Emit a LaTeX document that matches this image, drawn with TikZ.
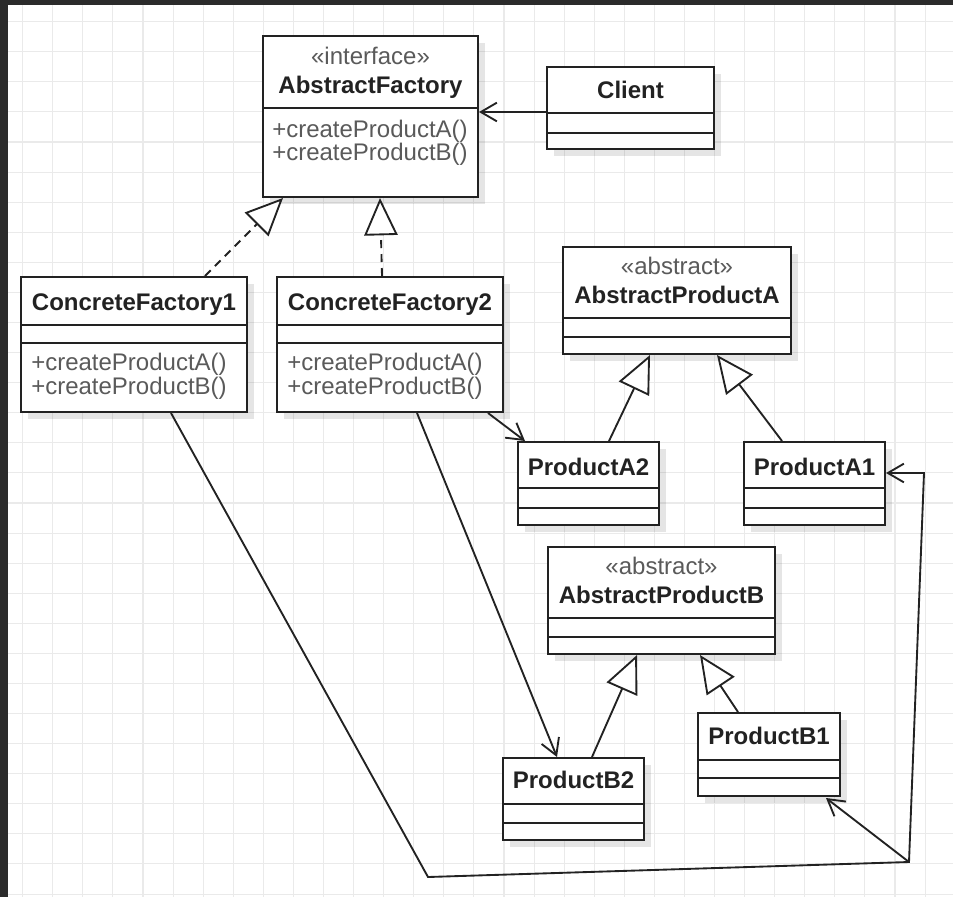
\documentclass[tikz,border=0pt]{standalone}
\usepackage{fontspec}
\setmainfont{Liberation Sans}
\usetikzlibrary{arrows.meta,calc,shadows}
\definecolor{ink}{HTML}{222222}
\definecolor{txtgray}{HTML}{5A5A5A}
\definecolor{gridc}{HTML}{EAEAEA}
\definecolor{bandc}{HTML}{2B2B2B}
\begin{document}
\begin{tikzpicture}[x=0.75pt,y=-0.75pt,
  cls/.style={draw=ink, line width=1.5pt, fill=white, inner sep=0pt, rectangle,
    drop shadow={shadow xshift=5pt, shadow yshift=-5pt, opacity=0.10, fill=black}},
  divl/.style={draw=ink, line width=1.5pt},
  lbl/.style={inner sep=0pt, anchor=base, font=\fontsize{18}{20}\selectfont},
  nm/.style={lbl, text=ink, font=\fontsize{18}{20}\selectfont\bfseries},
  st/.style={lbl, text=txtgray},
  mth/.style={lbl, anchor=base west, text=txtgray},
  conn/.style={draw=ink, line width=1.4pt},
  realz/.style={conn, dash pattern=on 6pt off 4.5pt,
    -{Triangle[open, length=28pt, width=25pt, fill=white, line width=1.4pt]}},
  gen/.style={conn, -{Triangle[open, length=28pt, width=25pt, fill=white, line width=1.4pt]}},
  assoc/.style={conn, -{Straight Barb[length=12pt, width=14pt, line width=1.4pt]}}
]
\useasboundingbox (0,0) rectangle (953,897);
\fill[white] (0,0) rectangle (953,897);
\foreach \i in {0,...,31} \draw[gridc, line width=0.8pt] ({22.7+30.08*\i},0) -- ({22.7+30.08*\i},897);
\foreach \i in {0,...,29} \draw[gridc, line width=0.8pt] (0,{21.7+30.08*\i}) -- (953,{21.7+30.08*\i});
\fill[bandc] (0,0) rectangle (953,4.5);
\fill[bandc] (0,0) rectangle (8,897);

% boxes
\node[cls, minimum width=215*0.75pt, minimum height=161*0.75pt] (af) at (370.5,116.5) {};
\node[cls, minimum width=167*0.75pt, minimum height=82*0.75pt] (client) at (630.5,108) {};
\node[cls, minimum width=226*0.75pt, minimum height=135*0.75pt] (cf1) at (134,344.5) {};
\node[cls, minimum width=226*0.75pt, minimum height=135*0.75pt] (cf2) at (390,344.5) {};
\node[cls, minimum width=228*0.75pt, minimum height=107*0.75pt] (apa) at (677,300.5) {};
\node[cls, minimum width=141*0.75pt, minimum height=83*0.75pt] (pa2) at (588.5,483.5) {};
\node[cls, minimum width=141*0.75pt, minimum height=83*0.75pt] (pa1) at (814.5,483.5) {};
\node[cls, minimum width=227*0.75pt, minimum height=107*0.75pt] (apb) at (661.5,600.5) {};
\node[cls, minimum width=141*0.75pt, minimum height=82*0.75pt] (pb2) at (573.5,799) {};
\node[cls, minimum width=142*0.75pt, minimum height=83*0.75pt] (pb1) at (769,754.5) {};

% dividers
\draw[divl] (af.west |- 0,108) -- (af.east |- 0,108);
\draw[divl] (client.west |- 0,113) -- (client.east |- 0,113);
\draw[divl] (client.west |- 0,132.7) -- (client.east |- 0,132.7);
\draw[divl] (cf1.west |- 0,325) -- (cf1.east |- 0,325);
\draw[divl] (cf1.west |- 0,343) -- (cf1.east |- 0,343);
\draw[divl] (cf2.west |- 0,325) -- (cf2.east |- 0,325);
\draw[divl] (cf2.west |- 0,343) -- (cf2.east |- 0,343);
\draw[divl] (apa.west |- 0,318.3) -- (apa.east |- 0,318.3);
\draw[divl] (apa.west |- 0,337.3) -- (apa.east |- 0,337.3);
\draw[divl] (pa2.west |- 0,488.3) -- (pa2.east |- 0,488.3);
\draw[divl] (pa2.west |- 0,507.7) -- (pa2.east |- 0,507.7);
\draw[divl] (pa1.west |- 0,488.3) -- (pa1.east |- 0,488.3);
\draw[divl] (pa1.west |- 0,507.7) -- (pa1.east |- 0,507.7);
\draw[divl] (apb.west |- 0,618.3) -- (apb.east |- 0,618.3);
\draw[divl] (apb.west |- 0,637.3) -- (apb.east |- 0,637.3);
\draw[divl] (pb2.west |- 0,804.3) -- (pb2.east |- 0,804.3);
\draw[divl] (pb2.west |- 0,823.3) -- (pb2.east |- 0,823.3);
\draw[divl] (pb1.west |- 0,760) -- (pb1.east |- 0,760);
\draw[divl] (pb1.west |- 0,778.3) -- (pb1.east |- 0,778.3);

% texts
\node[st] (af-st) at (370.5,64) {«interface»};
\node[nm] (af-nm) at (370.5,93.5) {AbstractFactory};
\node[mth] (af-m1) at (272,137.5) {+createProductA()};
\node[mth] (af-m2) at (272,160.5) {+createProductB()};
\node[nm] (client-nm) at (630.5,98.5) {Client};
\node[nm] (cf1-nm) at (134,310) {ConcreteFactory1};
\node[mth] (cf1-m1) at (31,370.5) {+createProductA()};
\node[mth] (cf1-m2) at (31,394.5) {+createProductB()};
\node[nm] (cf2-nm) at (390,310) {ConcreteFactory2};
\node[mth] (cf2-m1) at (287,370.5) {+createProductA()};
\node[mth] (cf2-m2) at (287,394.5) {+createProductB()};
\node[st] (apa-st) at (677,274) {«abstract»};
\node[nm] (apa-nm) at (677,303.5) {AbstractProductA};
\node[nm] (pa2-nm) at (588.5,475) {ProductA2};
\node[nm] (pa1-nm) at (814.5,475) {ProductA1};
\node[st] (apb-st) at (661.5,574) {«abstract»};
\node[nm] (apb-nm) at (661.5,603.5) {AbstractProductB};
\node[nm] (pb2-nm) at (573.5,788.5) {ProductB2};
\node[nm] (pb1-nm) at (769,744.5) {ProductB1};

% connectors
\draw[assoc] ($(client.west)+(0,4)$) -- ($(client.west -| af.east)+(0,4)$);
\draw[realz] ($(cf1.north)+(71,0)$) -- ($(af.south)+(-87.5,0)$);
\draw[realz] ($(cf2.north)+(-8,0)$) -- ($(af.south)+(9.5,0)$);
\draw[gen] ($(pa2.north)+(20.5,0)$) -- ($(apa.south)+(-27,0)$);
\draw[gen] ($(pa1.north)+(-32.5,0)$) -- ($(apa.south)+(40,0)$);
\draw[gen] ($(pb2.north)+(18.5,0)$) -- ($(apb.south)+(-24.5,0)$);
\draw[gen] ($(pb1.north)+(-31,0)$) -- ($(apb.south)+(38.5,0)$);
\draw[assoc] ($(cf2.south)+(98,0)$) -- ($(pa2.north west)+(8,0)$);
\draw[assoc] ($(cf2.south)+(27,0)$) -- ($(pb2.north)+(-16.5,0)$);
\coordinate (bl) at (428,877);
\coordinate (br) at (909,862);
\coordinate (tr) at (924,473);
\draw[assoc] ($(cf1.south)+(37,0)$) -- (bl) -- (br) -- (tr) -- (tr -| pa1.east);
\draw[assoc] (br) -- ($(pb1.south east)+(-15,1)$);
\end{tikzpicture}
\end{document}
